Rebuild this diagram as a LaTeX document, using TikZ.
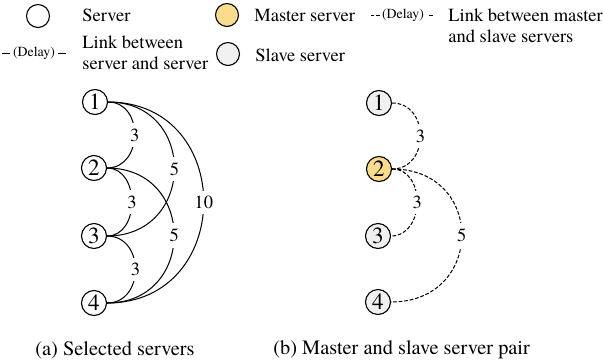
\documentclass[tikz,border=0pt]{standalone}
\usepackage{fontspec}
\setmainfont{TeX Gyre Termes}
\definecolor{masteryellow}{RGB}{251,219,140}
\definecolor{slavegray}{RGB}{240,240,240}
\tikzset{
  srv/.style={draw,circle,line width=0.6pt,minimum size=13.5pt,inner sep=0pt,font=\fontsize{12.5}{12.5}\selectfont},
  master/.style={srv,fill=masteryellow},
  slave/.style={srv,fill=slavegray},
  lnk/.style={line width=0.55pt},
  mslnk/.style={lnk,dash pattern=on 2pt off 1pt},
  dly/.style={fill=white,inner xsep=1pt,inner ysep=3pt,font=\fontsize{10}{10}\selectfont},
  legtxt/.style={anchor=west,inner sep=0pt,align=left,font=\fontsize{10}{11.5}\selectfont},
  smalltxt/.style={inner sep=0pt,font=\fontsize{7.5}{7.5}\selectfont},
  capt/.style={anchor=west,inner sep=0pt,font=\fontsize{11}{11}\selectfont},
}
\begin{document}
\begin{tikzpicture}[x=0.54pt,y=-0.54pt]
\useasboundingbox (0,0) rectangle (603,363);
% legend
\node[srv,minimum size=12.4pt] (lsrv) at (38,16) {};
\node[legtxt] (lsrvtxt) at (82,15) {Server};
\node[master,minimum size=12.4pt] (lmst) at (227,15) {};
\node[legtxt] (lmsttxt) at (254,15) {Master server};
\node[smalltxt] (lmsdly) at (403,15) {(Delay)};
\draw[mslnk] (lmsdly.west) ++(-2,0) -- ++(-9,0);
\draw[mslnk] (lmsdly.east) ++(5,0) -- ++(4,0);
\node[legtxt] (lmslnk) at (448,26) {Link between master\\and slave servers};
\node[smalltxt] (lssdly) at (34,53) {(Delay)};
\draw[lnk] (lssdly.west) ++(-3,0) -- ++(-8,0);
\draw[lnk] (lssdly.east) ++(3,0) -- ++(8,0);
\node[legtxt] (lsslnk) at (82,53) {Link between\\server and server};
\node[slave,minimum size=12.4pt] (lslv) at (228,54) {};
\node[legtxt] (lslvtxt) at (255,55) {Slave server};

% (a) selected servers
\node[srv] (a1) at (95,102) {1};
\node[srv] (a2) at (94,168) {2};
\node[srv] (a3) at (94,236) {3};
\node[srv] (a4) at (94,303) {4};
\draw[lnk] (a1.east) to[out=0,in=0,looseness=1.4] node[dly] {3} (a2.east);
\draw[lnk] (a2.east) to[out=0,in=0,looseness=1.25] node[dly] {3} (a3.east);
\draw[lnk] (a3.east) to[out=0,in=0,looseness=1.45] node[dly] {3} (a4.east);
\draw[lnk] (a1.east) to[out=0,in=0,looseness=1.7] node[dly] {5} (a3.east);
\draw[lnk] (a2.east) to[out=0,in=0,looseness=1.7] node[dly] {5} (a4.east);
\draw[lnk] (a1.east) to[out=0,in=0,looseness=1.63] node[dly] {10} (a4.east);

% (b) master and slave servers
\node[slave] (b1) at (379,103) {1};
\node[master] (b2) at (379,169) {2};
\node[slave] (b3) at (378,236) {3};
\node[slave] (b4) at (378,302) {4};
\draw[mslnk] (b1.east) to[out=0,in=0,looseness=1.47] node[dly] {3} (b2.east);
\draw[mslnk] (b2.east) to[out=0,in=0,looseness=1.3] node[dly] {3} (b3.east);
\draw[mslnk] (b2.east) to[out=0,in=0,looseness=1.8] node[dly] {5} (b4.east);

\node[capt] (capa) at (35,350) {(a) Selected servers};
\node[capt] (capb) at (273,350) {(b) Master and slave server pair};
\end{tikzpicture}
\end{document}
